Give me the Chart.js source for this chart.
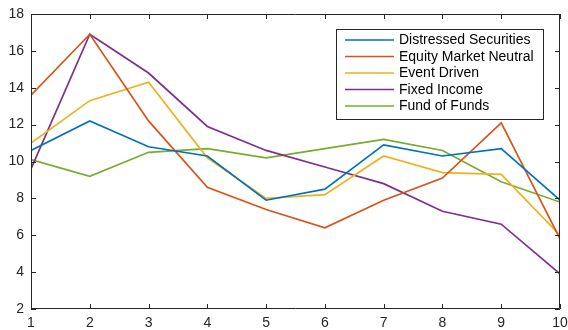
<!DOCTYPE html>
<html>
<head>
<meta charset="utf-8">
<script src="https://cdn.jsdelivr.net/npm/chart.js@4"></script>
<style>
  html, body { margin: 0; padding: 0; background: #fff; }
  canvas { display: block; }
</style>
</head>
<body>
<canvas id="myChart" width="568" height="330"></canvas>
<script>
const xValues = [1, 2, 3, 4, 5, 6, 7, 8, 9, 10];
const seriesNames = ['Distressed Securities', 'Equity Market Neutral', 'Event Driven', 'Fixed Income', 'Fund of Funds'];
const distressed = [10.6, 12.2, 10.8, 10.3, 7.9, 8.5, 10.9, 10.3, 10.7, 7.9];
const equityNeutral = [13.6, 16.9, 12.2, 8.6, 7.4, 6.4, 7.9, 9.1, 12.1, 5.8];
const eventDriven = [11.0, 13.3, 14.3, 10.2, 8.0, 8.2, 10.3, 9.4, 9.3, 6.0];
const fixedIncome = [9.6, 16.9, 14.8, 11.9, 10.6, 9.7, 8.8, 7.3, 6.6, 3.9];
const fundOfFunds = [10.1, 9.2, 10.5, 10.7, 10.2, 10.7, 11.2, 10.6, 8.9, 7.8];
const yTicks = [2, 4, 6, 8, 10, 12, 14, 16, 18];

const colors = ['#0072BD', '#D95319', '#EDB120', '#7E2F8E', '#77AC30'];
const allSeries = [distressed, equityNeutral, eventDriven, fixedIncome, fundOfFunds];
const FONT = '"Liberation Sans", Arial, Helvetica, sans-serif';
const AXIS_COLOR = '#262626';

const data = {
    datasets: allSeries.map((vals, i) => ({
        label: seriesNames[i],
        data: vals.map((v, j) => ({ x: xValues[j], y: v })),
        borderColor: colors[i],
        backgroundColor: colors[i],
        borderWidth: 1.7,
        pointRadius: 0,
        tension: 0,
        fill: false
    }))
};

// box round the axes plus inward ticks on all four sides
const boxPlugin = {
    id: 'box',
    afterDatasetsDraw(chart) {
        const ctx = chart.ctx;
        const a = chart.chartArea;
        const xs = chart.scales.x, ys = chart.scales.y;
        ctx.save();
        ctx.strokeStyle = AXIS_COLOR;
        ctx.lineWidth = 1;
        ctx.beginPath();
        ctx.rect(a.left + 0.5, a.top + 0.5, a.right - a.left - 1, a.bottom - a.top - 1);
        const t = 5;
        xValues.forEach(v => {
            const px = Math.round(xs.getPixelForValue(v)) + 0.5;
            ctx.moveTo(px, a.bottom); ctx.lineTo(px, a.bottom - t);
            ctx.moveTo(px, a.top); ctx.lineTo(px, a.top + t);
        });
        yTicks.forEach(v => {
            const py = Math.round(ys.getPixelForValue(v)) + 0.5;
            ctx.moveTo(a.left, py); ctx.lineTo(a.left + t, py);
            ctx.moveTo(a.right, py); ctx.lineTo(a.right - t, py);
        });
        ctx.stroke();
        ctx.restore();
    }
};

// MATLAB-style legend box in the upper right
const legendPlugin = {
    id: 'boxLegend',
    afterDraw(chart) {
        const ctx = chart.ctx;
        const x0 = 336, y0 = 29, w = 207, h = 90;
        ctx.save();
        ctx.fillStyle = '#fff';
        ctx.fillRect(x0, y0, w, h);
        ctx.strokeStyle = AXIS_COLOR;
        ctx.lineWidth = 1;
        ctx.strokeRect(x0 + 0.5, y0 + 0.5, w, h);
        ctx.font = '14px ' + FONT;
        ctx.textBaseline = 'middle';
        ctx.fillStyle = '#000';
        chart.data.datasets.forEach((ds, i) => {
            const cy = y0 + 11 + i * 16.5;
            ctx.strokeStyle = ds.borderColor;
            ctx.lineWidth = 1.7;
            ctx.beginPath();
            ctx.moveTo(345, cy); ctx.lineTo(394, cy);
            ctx.stroke();
            ctx.fillText(ds.label, 399, cy + 0.5);
        });
        ctx.restore();
    }
};

const config = {
    type: 'line',
    data: data,
    options: {
        responsive: false,
        animation: false,
        layout: { padding: { top: 14, right: 8, left: 0, bottom: 0 } },
        plugins: { legend: { display: false }, tooltip: { enabled: false } },
        scales: {
            x: {
                type: 'linear',
                min: 1, max: 10,
                grid: { display: false, drawTicks: false },
                border: { display: false },
                ticks: { stepSize: 1, padding: 6, color: AXIS_COLOR, font: { family: FONT, size: 14 }, maxRotation: 0 },
                afterFit(scale) { scale.height = 21; scale.paddingLeft = 0; scale.paddingRight = 0; }
            },
            y: {
                min: 2, max: 18,
                grid: { display: false, drawTicks: false },
                border: { display: false },
                ticks: { stepSize: 2, padding: 7, color: AXIS_COLOR, font: { family: FONT, size: 14 } },
                afterFit(scale) { scale.width = 31; scale.paddingTop = 0; scale.paddingBottom = 0; }
            }
        }
    },
    plugins: [boxPlugin, legendPlugin]
};

const myChart = new Chart(document.getElementById('myChart'), config);
</script>
</body>
</html>
